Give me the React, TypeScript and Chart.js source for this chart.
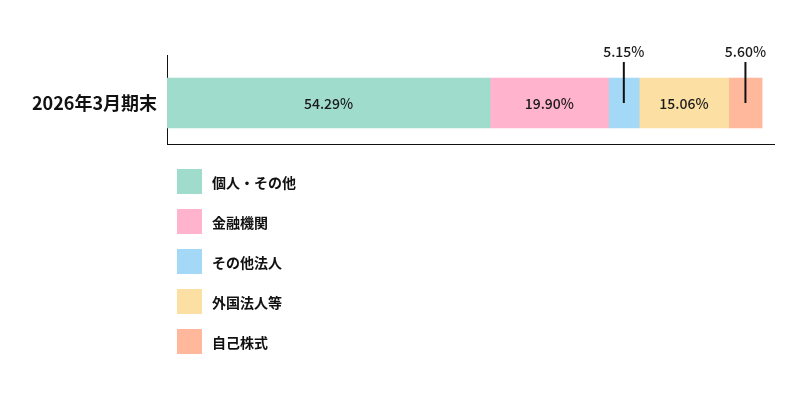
import { useEffect, useRef } from 'react';
import { Chart, registerables } from 'chart.js';
import type { Plugin } from 'chart.js';

Chart.register(...registerables);

const categories = ['2026年3月期末'];
const seriesNames = ['個人・その他', '金融機関', 'その他法人', '外国法人等', '自己株式'];
const seriesValues = [54.29, 19.9, 5.15, 15.06, 5.6];
const seriesColors = ['#a0dccc', '#ffb3cc', '#a3d8f6', '#fce0a3', '#ffb89c'];

const FONT = '"Noto Sans CJK JP", "Noto Sans", sans-serif';
const INSIDE_MIN = 10; // smaller slices get their label above the bar

// percent labels: inside for wide slices, above with a leader line for thin ones
const labelPlugin: Plugin<'bar'> = {
  id: 'segmentLabels',
  afterLayout(chart) {
    // the y axis line in the reference reaches a little above the plot area
    const y = chart.scales.y;
    y.top = chart.chartArea.top - 7;
  },
  afterDatasetsDraw(chart) {
    const { ctx, chartArea } = chart;
    ctx.save();
    ctx.font = `500 14px ${FONT}`;
    ctx.fillStyle = '#1a1a1a';
    ctx.textAlign = 'center';
    ctx.textBaseline = 'middle';
    chart.data.datasets.forEach((ds, i) => {
      const bar = chart.getDatasetMeta(i).data[0] as any;
      if (!bar) return;
      const v = ds.data[0] as number;
      const cx = (bar.x + bar.base) / 2;
      const text = v.toFixed(2) + '%';
      if (v >= INSIDE_MIN) {
        ctx.fillText(text, cx, bar.y + 1);
      } else {
        ctx.fillText(text, cx, chartArea.top - 10);
        ctx.beginPath();
        ctx.strokeStyle = '#111';
        ctx.lineWidth = 2;
        ctx.moveTo(cx, chartArea.top);
        ctx.lineTo(cx, bar.y);
        ctx.stroke();
      }
    });
    ctx.restore();
  },
};

export default function App() {
  const canvasRef = useRef<HTMLCanvasElement>(null);
  const chart = useRef<Chart<'bar'> | null>(null);

  useEffect(() => {
    if (!canvasRef.current) return;
    chart.current?.destroy();
    chart.current = new Chart(canvasRef.current, {
      type: 'bar',
      data: {
        labels: categories,
        datasets: seriesNames.map((name, i) => ({
          label: name,
          data: [seriesValues[i]],
          backgroundColor: seriesColors[i],
          borderWidth: 0,
          barThickness: 50,
        })),
      },
      options: {
        indexAxis: 'y',
        responsive: false,
        animation: false,
        layout: { padding: { top: 62, bottom: 256, right: 26, left: 0 } },
        plugins: {
          legend: { display: false },
          tooltip: { enabled: false },
        },
        scales: {
          x: {
            stacked: true,
            min: 0,
            max: 102,
            grid: { display: false, drawTicks: false },
            border: { display: true, color: '#111', width: 1 },
            ticks: { display: false },
            afterFit: (s: any) => { s.height = 0; },
          },
          y: {
            stacked: true,
            grid: { display: false, drawTicks: false },
            border: { display: true, color: '#111', width: 1 },
            ticks: {
              color: '#111',
              padding: 10,
              font: { family: FONT, size: 18, weight: 'bold' },
            },
            afterFit: (s: any) => { s.width = 167; },
          },
        },
      },
      plugins: [labelPlugin],
    });
    return () => { chart.current?.destroy(); };
  }, []);

  return (
    <div style={{ position: 'absolute', left: 0, top: 0, width: 800, height: 400, background: '#fff' }}>
      <canvas ref={canvasRef} width={800} height={400} style={{ position: 'absolute', left: 0, top: 0 }} />
      <div style={{ position: 'absolute', left: 177, top: 169, fontFamily: FONT }}>
        {seriesNames.map((name, i) => (
          <div key={name} style={{ display: 'flex', alignItems: 'center', height: 25, marginBottom: 15 }}>
            <span style={{ width: 25, height: 25, background: seriesColors[i], display: 'inline-block' }} />
            <span style={{ marginLeft: 10, fontSize: 14, fontWeight: 'bold', color: '#111' }}>{name}</span>
          </div>
        ))}
      </div>
    </div>
  );
}
